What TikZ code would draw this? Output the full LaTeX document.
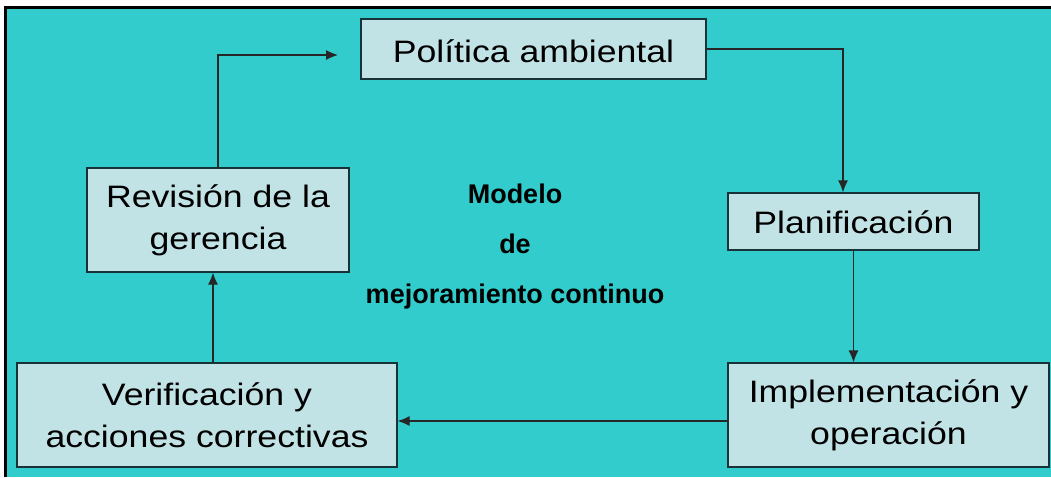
\documentclass[tikz,border=0pt]{standalone}
\usepackage{fontspec}
\setmainfont{Liberation Sans}
\newfontfamily\cajafont[FakeStretch=1.15]{Liberation Sans}
\usetikzlibrary{arrows.meta}
\definecolor{fondo}{RGB}{51,204,204}
\definecolor{relleno}{RGB}{194,227,230}
\definecolor{borde}{RGB}{25,50,55}

\begin{document}
\begin{tikzpicture}[x=1pt,y=-1pt,
  caja/.style={draw=borde,line width=1.2pt,fill=relleno,inner sep=0pt,align=center,
    font=\cajafont\fontsize{31}{42}\selectfont},
  flecha/.style={draw=black!85,line width=1.2pt,-{Latex[length=12pt,width=10pt]}}]
\useasboundingbox (0,0) rectangle (1051,477);
\fill[white] (0,0) rectangle (1051,477);
\fill[fondo] (5,7) rectangle (1051,477);
\draw[line width=3pt] (5,477) -- (5,7.5) -- (1051,7.5); %marco
\node[caja,minimum width=345pt,minimum height=60pt,text height=27pt,text depth=0pt] (pol) at (533.5,49) {Política ambiental};
\node[caja,minimum width=251pt,minimum height=57pt,text height=23pt,text depth=0pt] (plan) at (853.5,221.5) {Planificación};
\node[caja,minimum width=321pt,minimum height=104pt] (impl) at (888.5,415) {Implementación y\\operación};
\node[caja,minimum width=380pt,minimum height=104pt] (verif) at (207,415) {Verificación y\\acciones correctivas};
\node[caja,minimum width=262pt,minimum height=104pt] (rev) at (218,220) {Revisión de la\\gerencia};
\node[font=\bfseries\fontsize{27}{50}\selectfont,align=center] (modelo) at (515,247) {Modelo\\de\\mejoramiento continuo};
\coordinate (polin) at (338,55);
\draw[flecha] (rev.north) |- (polin);
\draw[flecha] (pol.east) -| ([xshift=-10.5pt]plan.north);
\draw[flecha] (plan.south) -- (plan.south |- impl.north);
\draw[flecha] ([yshift=-6pt]impl.west) -- ([yshift=-6pt]impl.west -| verif.east);
\draw[flecha] ([xshift=6pt]verif.north) -- ([xshift=6pt]verif.north |- rev.south);
\end{tikzpicture}
\end{document}
